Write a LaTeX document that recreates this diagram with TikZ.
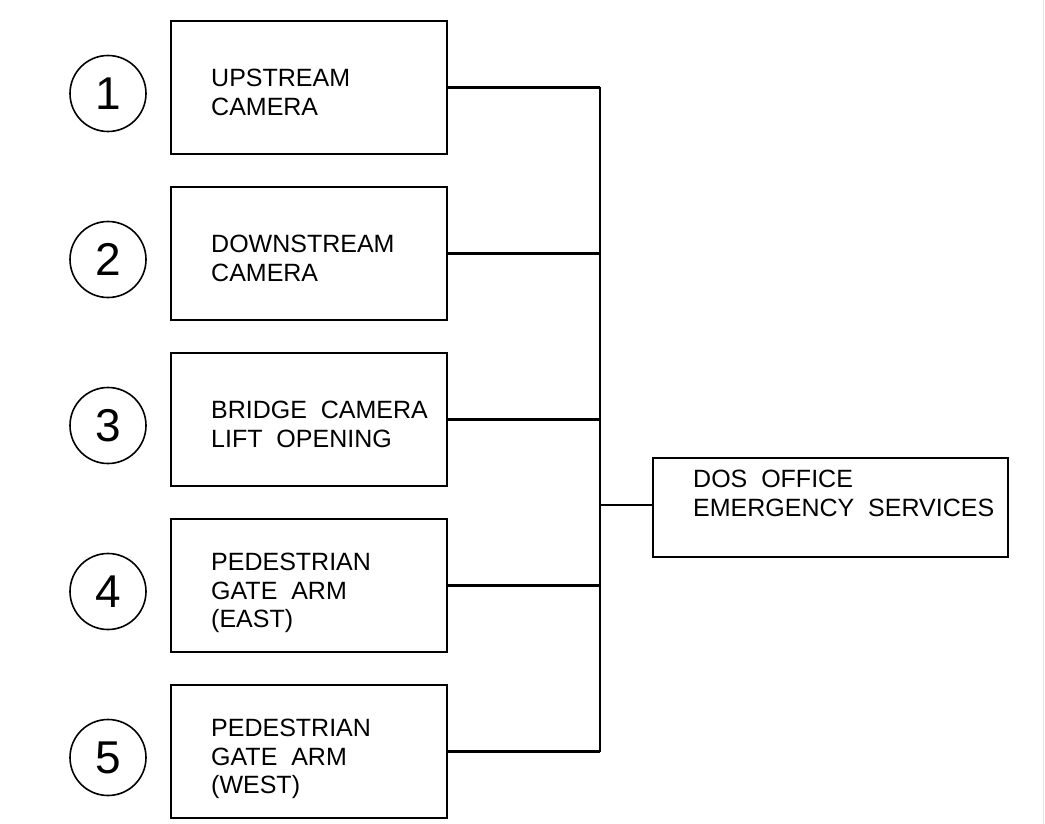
\documentclass[tikz,border=0pt]{standalone}
\usepackage{fontspec}
\setmainfont{Liberation Sans}
\usetikzlibrary{calc}

\tikzset{
	unitbox/.style={draw, line width=2.8pt, minimum width=276pt, minimum height=133pt, inner sep=0pt},
	officebox/.style={draw, line width=2.8pt, minimum width=355pt, minimum height=99pt, inner sep=0pt},
	boxtext/.style={anchor=north west, inner sep=0pt, align=left, font=\fontsize{25}{28.5}\selectfont},
	unitnum/.style={draw, circle, line width=1.6pt, minimum size=76pt, inner sep=0pt, font=\fontsize{46}{46}\selectfont},
	wire/.style={line width=2.8pt}
}

\begin{document}
\begin{tikzpicture}[x=1pt, y=-1pt]
	\useasboundingbox (0,0) rectangle (1045,824);
	\draw[gray!20, line width=0.8pt] (1043.5,0) -- (1043.5,824);
	\node[unitbox] (b1) at (309,87.5) {};
	\node[unitbox] (b2) at (309,253.5) {};
	\node[unitbox] (b3) at (309,419.5) {};
	\node[unitbox] (b4) at (309,585.5) {};
	\node[unitbox] (b5) at (309,751.5) {};
	\node[boxtext] (t1) at (211,69) {UPSTREAM\\CAMERA};
	\node[boxtext] (t2) at (211,235) {DOWNSTREAM\\CAMERA};
	\node[boxtext] (t3) at (211,401) {BRIDGE\ \ CAMERA\\LIFT\ \ OPENING};
	\node[boxtext] (t4) at (211,553) {PEDESTRIAN\\GATE\ \ ARM\\(EAST)};
	\node[boxtext] (t5) at (211,719) {PEDESTRIAN\\GATE\ \ ARM\\(WEST)};
	\node[unitnum] (n1) at (108,93.5) {1};
	\node[unitnum] (n2) at (108,259.5) {2};
	\node[unitnum] (n3) at (108,425.5) {3};
	\node[unitnum] (n4) at (108,591.5) {4};
	\node[unitnum] (n5) at (108,757.5) {5};
	\node[officebox] (dos) at (830.5,507.5) {};
	\node[boxtext] (tdos) at (693,470) {DOS\ \ OFFICE\\EMERGENCY\ \ SERVICES};
	\coordinate (J1) at (600,87.5);
	\coordinate (J2) at (600,253.5);
	\coordinate (J3) at (600,419.5);
	\coordinate (J4) at (600,585.5);
	\coordinate (J5) at (600,751.5);
	\coordinate (Jd) at (600,505);
	\draw[wire] (b1.east) -- (J1);
	\draw[wire] (b2.east) -- (J2);
	\draw[wire] (b3.east) -- (J3);
	\draw[wire] (b4.east) -- (J4);
	\draw[wire] (b5.east) -- (J5);
	\draw[wire] (J1) -- (J5);
	\draw[wire] (Jd) -- (Jd -| dos.west);
\end{tikzpicture}
\end{document}
